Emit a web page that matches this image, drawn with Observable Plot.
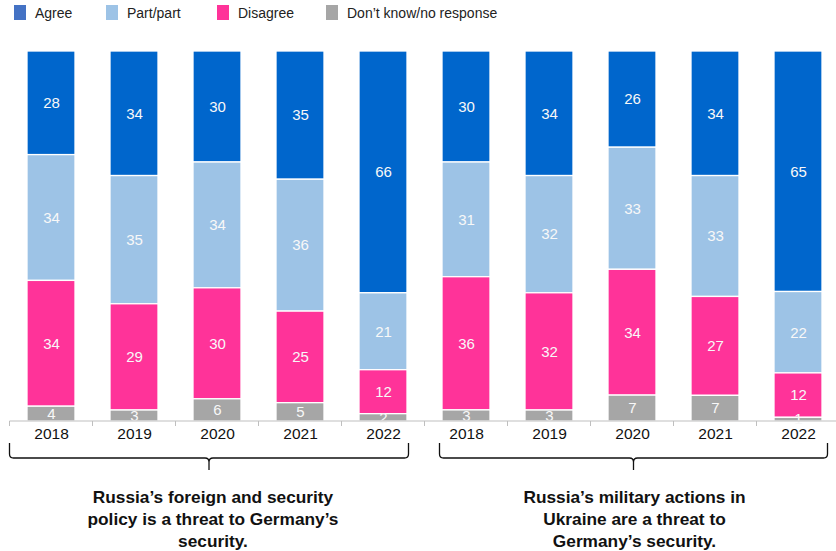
<!DOCTYPE html>
<html>
<head>
<meta charset="utf-8">
<script src="https://cdn.jsdelivr.net/npm/d3@7"></script>
<script src="https://cdn.jsdelivr.net/npm/@observablehq/plot@0.6"></script>
<style>
  html, body { margin: 0; padding: 0; background: #fff; overflow: hidden; }
  body { width: 836px; height: 551px; font-family: "Liberation Sans", Arial, sans-serif; }
  #legend { height: 25px; position: relative; font-size: 14px; color: #222; }
  .item { position: absolute; top: 5px; display: flex; align-items: center; height: 15px; }
  .sw { width: 12px; height: 15px; margin-right: 9px; }
  #chart svg { display: block; }
</style>
</head>
<body>
<div id="legend"></div>
<div id="chart"></div>
<script>
// ---- data ----
const groups = ["foreign", "military"];
const years = ["2018", "2019", "2020", "2021", "2022"];
const responses = ["Agree", "Part/part", "Disagree", "Don\u2019t know/no response"];
const legendColors = ["#4472C4", "#9DC3E6", "#FF3399", "#A6A6A6"];
const barColors = ["#0066CC", "#9DC3E6", "#FF3399", "#A6A6A6"];

const agreeForeign = [28, 34, 30, 35, 66];
const partForeign = [34, 35, 34, 36, 21];
const disagreeForeign = [34, 29, 30, 25, 12];
const dkForeign = [4, 3, 6, 5, 2];

const agreeMilitary = [30, 34, 26, 34, 65];
const partMilitary = [31, 32, 33, 33, 22];
const disagreeMilitary = [36, 32, 34, 27, 12];
const dkMilitary = [3, 3, 7, 7, 1];

const captions = [
  ["Russia\u2019s foreign and security", "policy is a threat to Germany\u2019s", "security."],
  ["Russia\u2019s military actions in", "Ukraine are a threat to", "Germany\u2019s security."]
];

// ---- table ----
const series = {
  foreign: [agreeForeign, partForeign, disagreeForeign, dkForeign],
  military: [agreeMilitary, partMilitary, disagreeMilitary, dkMilitary]
};
const rows = [];
for (const g of groups) {
  years.forEach((yr, i) => {
    responses.forEach((r, j) => {
      rows.push({key: g + "|" + yr, group: g, year: yr, response: r, value: series[g][j][i]});
    });
  });
}
const keys = groups.flatMap(g => years.map(y => g + "|" + y));
const stackOrder = responses.slice().reverse(); // bottom to top

// ---- legend ----
const legendX = [14, 106, 217, 326];
const legend = document.getElementById("legend");
responses.forEach((r, i) => {
  const it = document.createElement("div");
  it.className = "item";
  it.style.left = legendX[i] + "px";
  it.innerHTML = `<span class="sw" style="background:${legendColors[i]}"></span><span>${r}</span>`;
  legend.appendChild(it);
});

// ---- plot ----
const H = 526, top0 = 26, bottom0 = 130;
const stackOpts = {x: "key", y: "value", z: "response", order: stackOrder, offset: "normalize"};

const plot = Plot.plot({
  width: 836,
  height: H,
  marginTop: top0,
  marginBottom: bottom0,
  marginLeft: 8,
  marginRight: 0,
  style: {fontFamily: "Liberation Sans, Arial, sans-serif", background: "white"},
  x: {domain: keys, range: [8, 841], paddingInner: 0.42, paddingOuter: 0.21, axis: null},
  y: {axis: null, domain: [0, 1]},
  color: {domain: responses, range: barColors},
  marks: [
    Plot.barY(rows, Plot.stackY({...stackOpts, fill: "response", stroke: "white", strokeWidth: 1.3})),
    Plot.text(rows, Plot.stackY({...stackOpts, text: "value", fill: "#F8F8F8", fontSize: 15})),
    Plot.axisX({domain: keys, tickSize: 0, tickPadding: 6, fontSize: 15.5, fill: "#111", label: null,
      tickFormat: d => d.split("|")[1]})
  ]
});

// decorations using the plot's own scales
const xs = plot.scale("x");
const ys = plot.scale("y");
const svg = d3.select(plot);
const base = ys.apply(0);
const step = xs.step;
const bandStart = k => xs.apply(k) - (step - xs.bandwidth) / 2;
const x0 = bandStart(keys[0]);
// axis line
svg.append("line").attr("x1", x0).attr("x2", 836).attr("y1", base).attr("y2", base)
  .attr("stroke", "#BFBFBF").attr("stroke-width", 1);
// boundary ticks
for (let i = 0; i <= keys.length; i++) {
  const bx = x0 + i * step;
  svg.append("line").attr("x1", bx).attr("x2", bx).attr("y1", base).attr("y2", base + 5)
    .attr("stroke", "#BFBFBF").attr("stroke-width", 1);
}
// braces and captions
const braceInset = [[0, -16], [15, -12]];
const captionShift = [4, 1];
groups.forEach((g, gi) => {
  const gk = keys.filter(k => k.startsWith(g + "|"));
  const gs = bandStart(gk[0]);
  const ge = bandStart(gk[gk.length - 1]) + step;
  const x1 = gs + braceInset[gi][0];
  const x2 = ge + braceInset[gi][1];
  const xm = (x1 + x2) / 2;
  const yt = base + 22, yh = base + 37, yb = base + 49;
  const r = 4;
  const d = `M${x1},${yt} V${yh - r} Q${x1},${yh} ${x1 + r},${yh} H${xm - r} Q${xm},${yh} ${xm},${yh + r} V${yb}` +
            ` M${xm},${yh + r} Q${xm},${yh} ${xm + r},${yh} H${x2 - r} Q${x2},${yh} ${x2},${yh - r} V${yt}`;
  svg.append("path").attr("d", d).attr("fill", "none").attr("stroke", "#111").attr("stroke-width", 1.3);
  const t = svg.append("text").attr("text-anchor", "middle")
    .attr("font-family", "Liberation Sans, Arial, sans-serif")
    .attr("font-weight", "bold").attr("font-size", 17.3).attr("fill", "#111");
  captions[gi].forEach((line, li) => {
    t.append("tspan").attr("x", xm + captionShift[gi]).attr("y", base + 82 + li * 22).text(line);
  });
});

document.getElementById("chart").appendChild(plot);
</script>
</body>
</html>
